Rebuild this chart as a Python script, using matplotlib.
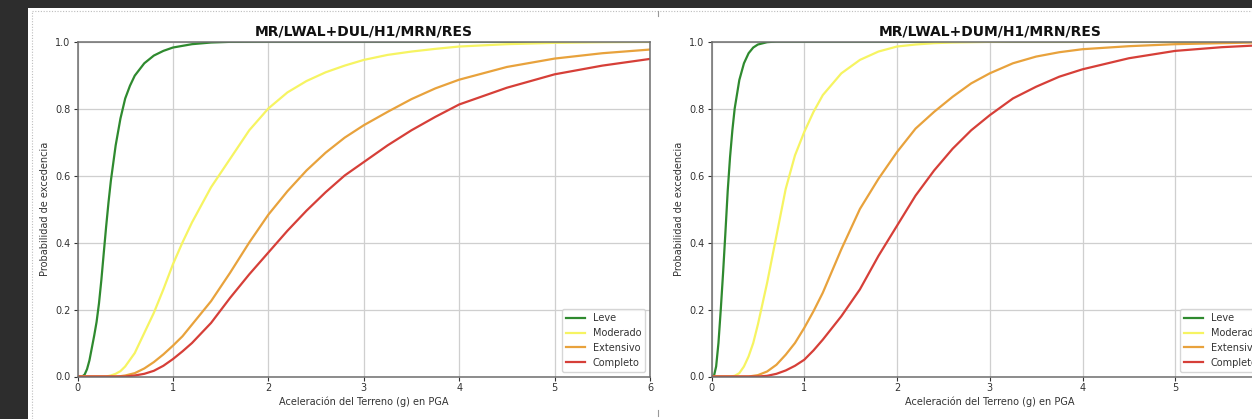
import matplotlib
matplotlib.use("Agg")
import matplotlib.pyplot as plt
from matplotlib.patches import Rectangle
from matplotlib.lines import Line2D

# ---------------- data ----------------
x_pga = [0, 0.05, 0.1, 0.15, 0.2, 0.25, 0.3, 0.35, 0.4, 0.45, 0.5, 0.6, 0.7, 0.8,
         0.9, 1.0, 1.1, 1.2, 1.4, 1.6, 1.8, 2.0, 2.2, 2.4, 2.6, 2.8, 3.0, 3.25,
         3.5, 3.75, 4.0, 4.5, 5.0, 5.5, 6.0]

series_names = ["Leve", "Moderado", "Extensivo", "Completo"]

# Left panel: MR/LWAL+DUL/H1/MRN/RES
x_dul_leve = [0, 0.05, 0.075, 0.1, 0.125, 0.15, 0.175, 0.2, 0.225, 0.25, 0.275, 0.3, 0.325,
              0.35, 0.4, 0.45, 0.5, 0.55, 0.6, 0.7, 0.8, 0.9, 1.0, 1.2, 1.4, 1.6, 2.0, 6.0]
dul_leve = [0, 0.0, 0.006, 0.022, 0.048, 0.085, 0.122, 0.163, 0.218, 0.288, 0.368, 0.447, 0.52,
            0.585, 0.69, 0.77, 0.83, 0.868, 0.898, 0.935, 0.958, 0.972, 0.982, 0.992, 0.997, 0.999,
            1.0, 1.0]
dul_moderado = [0, 0, 0, 0, 0, 0, 0.0, 0.003, 0.008, 0.016, 0.03, 0.07, 0.13, 0.19,
                0.26, 0.335, 0.40, 0.46, 0.565, 0.65, 0.735, 0.80, 0.848, 0.882, 0.908, 0.928, 0.945, 0.96,
                0.97, 0.978, 0.985, 0.992, 0.996, 0.998, 0.999]
dul_extensivo = [0, 0, 0, 0, 0, 0, 0, 0, 0.0, 0.001, 0.003, 0.01, 0.024, 0.043,
                 0.066, 0.092, 0.12, 0.155, 0.225, 0.31, 0.40, 0.483, 0.553, 0.615, 0.668, 0.713, 0.75, 0.79,
                 0.828, 0.86, 0.886, 0.924, 0.949, 0.965, 0.976]
dul_completo = [0, 0, 0, 0, 0, 0, 0, 0, 0, 0, 0.0, 0.003, 0.008, 0.017,
                0.032, 0.052, 0.075, 0.10, 0.16, 0.235, 0.305, 0.37, 0.435, 0.495, 0.55, 0.60, 0.64, 0.69,
                0.735, 0.775, 0.812, 0.862, 0.902, 0.928, 0.948]

# Right panel: MR/LWAL+DUM/H1/MRN/RES
x_dum_leve = [0, 0.025, 0.05, 0.075, 0.1, 0.125, 0.15, 0.175, 0.2, 0.225, 0.25, 0.3, 0.35,
              0.4, 0.45, 0.5, 0.6, 0.7, 6.0]
dum_leve = [0, 0.0, 0.03, 0.10, 0.20, 0.31, 0.43, 0.555, 0.655, 0.735, 0.80, 0.885, 0.935,
            0.965, 0.982, 0.991, 0.998, 1.0, 1.0]
dum_moderado = [0, 0, 0, 0, 0.0, 0.002, 0.01, 0.03, 0.06, 0.10, 0.155, 0.28, 0.42, 0.56,
                0.66, 0.73, 0.79, 0.84, 0.905, 0.945, 0.97, 0.985, 0.991, 0.995, 0.997, 0.998, 0.999, 1.0,
                1.0, 1.0, 1.0, 1.0, 1.0, 1.0, 1.0]
dum_extensivo = [0, 0, 0, 0, 0, 0, 0, 0, 0.0, 0.002, 0.004, 0.015, 0.035, 0.065,
                 0.10, 0.145, 0.195, 0.25, 0.38, 0.50, 0.59, 0.67, 0.74, 0.79, 0.835, 0.875, 0.905, 0.935,
                 0.955, 0.968, 0.977, 0.986, 0.992, 0.995, 0.998]
dum_completo = [0, 0, 0, 0, 0, 0, 0, 0, 0, 0, 0.0, 0.002, 0.008, 0.018,
                0.032, 0.05, 0.078, 0.11, 0.18, 0.26, 0.36, 0.45, 0.54, 0.615, 0.68, 0.735, 0.78, 0.83,
                0.865, 0.895, 0.917, 0.95, 0.972, 0.983, 0.99]

titles = ["MR/LWAL+DUL/H1/MRN/RES", "MR/LWAL+DUM/H1/MRN/RES"]
xlabel_text = "Aceleración del Terreno (g) en PGA"
ylabel_text = "Probabilidad de excedencia"
xticks = [0, 1, 2, 3, 4, 5, 6]
yticks = [0.0, 0.2, 0.4, 0.6, 0.8, 1.0]

panels = [
    [(x_dul_leve, dul_leve), (x_pga, dul_moderado), (x_pga, dul_extensivo), (x_pga, dul_completo)],
    [(x_dum_leve, dum_leve), (x_pga, dum_moderado), (x_pga, dum_extensivo), (x_pga, dum_completo)],
]

colors = ["#2f8a2f", "#f6f462", "#e8a23c", "#d63f38"]

# ---------------- figure ----------------
W, H = 1252, 419
fig = plt.figure(figsize=(W / 100, H / 100), dpi=100)
fig.patch.set_facecolor("#2d2d2d")

def fx(px):
    return px / W

def fy(py):
    return 1 - py / H

# white page
fig.patches.append(Rectangle((fx(28), 0), 1 - fx(28), fy(8), transform=fig.transFigure,
                             facecolor="white", edgecolor="none", zorder=-10))
# dotted border
fig.lines.append(Line2D([fx(31.5), fx(31.5)], [0, fy(11)], transform=fig.transFigure,
                        color="#bdbdbd", lw=0.8, ls=(0, (1, 1.5)), zorder=-5))
fig.lines.append(Line2D([fx(31.5), 1], [fy(11), fy(11)], transform=fig.transFigure,
                        color="#bdbdbd", lw=0.8, ls=(0, (1, 1.5)), zorder=-5))
# small separator marks
fig.lines.append(Line2D([fx(658), fx(658)], [fy(11), fy(16)], transform=fig.transFigure,
                        color="#999999", lw=0.8, zorder=-5))
fig.lines.append(Line2D([fx(658), fx(658)], [fy(410), fy(416)], transform=fig.transFigure,
                        color="#999999", lw=0.8, zorder=-5))

ax_pos = [
    [fx(77.5), fy(376.5), fx(650) - fx(77.5), fy(41.5) - fy(376.5)],
    [fx(711.5), fy(376.5), fx(556.5), fy(41.5) - fy(376.5)],
]

for pos, series, title in zip(ax_pos, panels, titles):
    ax = fig.add_axes(pos)
    ax.set_facecolor("white")
    for (xs, vals), name, c in zip(series, series_names, colors):
        ax.plot(xs, vals, color=c, lw=1.6, label=name)
    ax.set_xlim(0, 6)
    ax.set_ylim(0, 1)
    ax.set_xticks(xticks)
    ax.set_yticks(yticks)
    ax.set_xticklabels([str(t) for t in xticks])
    ax.set_yticklabels([f"{t:.1f}" for t in yticks])
    ax.grid(True, color="#cfcfcf", lw=0.9)
    ax.set_axisbelow(True)
    ax.tick_params(labelsize=7, colors="#333333", length=3, width=0.8, pad=2)
    for sp in ax.spines.values():
        sp.set_color("#6e6e6e")
        sp.set_linewidth(1.1)
    ax.set_title(title, fontsize=10, fontweight="bold", color="#111111", pad=4)
    ax.set_xlabel(xlabel_text, fontsize=7, color="#333333", labelpad=2)
    ax.set_ylabel(ylabel_text, fontsize=7, color="#333333", labelpad=4)
    leg = ax.legend(loc="lower right", fontsize=7, frameon=True, borderaxespad=0.5)
    leg.get_frame().set_edgecolor("#cccccc")
    for t in leg.get_texts():
        t.set_color("#333333")

fig.savefig("out.png", dpi=100, facecolor=fig.get_facecolor())
